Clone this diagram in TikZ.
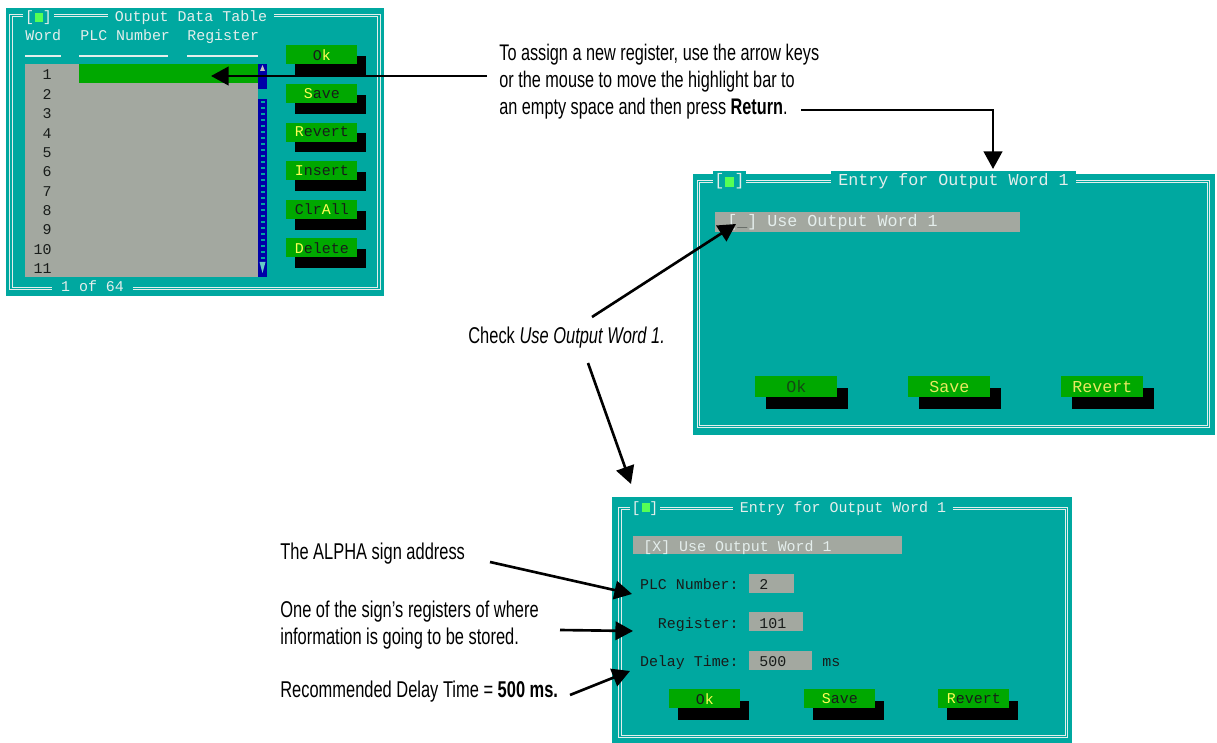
\documentclass[tikz,border=0pt]{standalone}
\usepackage{fontspec}
\usetikzlibrary{arrows.meta,shadows}

\newfontfamily\scrfont{Liberation Mono}
\newfontfamily\annfont[FakeStretch=0.72]{Liberation Sans}

\definecolor{dosteal}{RGB}{0,168,160}
\definecolor{dosgray}{RGB}{163,168,160}
\definecolor{dosgreen}{RGB}{0,168,0}
\definecolor{dosblue}{RGB}{0,0,168}
\definecolor{litegreen}{RGB}{85,255,85}
\definecolor{hotkey}{RGB}{255,255,85}
\definecolor{scrlight}{RGB}{228,238,236}
\definecolor{scrdark}{RGB}{24,28,26}
\definecolor{curgray}{RGB}{90,96,92}
\definecolor{dullgreen}{RGB}{20,72,20}
\definecolor{paleyel}{RGB}{232,232,96}

\newcommand\hk[1]{\textcolor{hotkey}{#1}}
\newcommand\scr{\scrfont\fontsize{8.5}{10}\selectfont}
\newcommand\scrbig{\scrfont\fontsize{9.5}{11}\selectfont}

\tikzset{
  winframe/.style={draw=scrlight, line width=0.55pt, double=dosteal, double distance=1.1pt},
  wintitle/.style={fill=dosteal, text=scrlight, anchor=base, inner xsep=4pt, inner ysep=1.5pt},
  winbox/.style={wintitle, inner xsep=1pt},
  scrtext/.style={anchor=base west, inner sep=0pt, font=\scr},
  btn/.style={fill=dosgreen, text=scrdark, inner sep=0pt, anchor=north west, font=\scr,
    minimum width=1.42cm, minimum height=0.38cm},
  btnshadow/.style 2 args={general shadow={fill=black, shadow xshift=#1, shadow yshift=#2}},
  ann/.style={anchor=base west, inner sep=0pt, font=\annfont\fontsize{13}{15}\selectfont},
  topann/.style={ann, font=\annfont\fontsize{12.85}{15}\selectfont},
  pointer/.style={line width=1.5pt, -{Triangle[length=10pt,width=10.5pt]}},
}

\begin{document}
\begin{tikzpicture}[x=0.02cm, y=-0.02cm]
\useasboundingbox (0,0) rectangle (1217,743);
\fill[white] (0,0) rectangle (1217,743);

% output data table
\fill[dosteal] (6,8) rectangle (384,296);
\draw[winframe] (11.3,15.5) rectangle (379.2,288.5);
\node[winbox, font=\scr] (tblBox) at (38.5,21.5) {[ ]};
\fill[litegreen] (35,13) rectangle (43,22);
\node[wintitle, font=\scr] (tblTitle) at (191,21.5) {Output Data Table};
\node[scrtext, text=scrlight] (hdWord) at (25,41) {Word};
\node[scrtext, text=scrlight] (hdPlc) at (80,41) {PLC Number};
\node[scrtext, text=scrlight] (hdReg) at (187,41) {Register};
\draw[scrlight, line width=1pt] (25,56) -- (61,56) (79,56) -- (168,56) (187,56) -- (258,56);
\fill[dosgray] (25,64) rectangle (258,277);
\fill[dosgreen] (79,64) rectangle (258,83);
\foreach \i in {1,...,11}
  \node[scrtext, anchor=base east, text=scrdark] (row\i) at (52,{80+(\i-1)*19.35}) {\i};
% scroll bar
\fill[dosblue] (258,64) rectangle (267,89);
\fill[dosgray!70!white] (262.5,65) -- (265,71) -- (260,71) -- cycle;
\fill[dosblue] (258,99) rectangle (267,277);
\foreach \k in {0,...,26}
  \fill[dosteal] (260.5,{101+\k*6}) rectangle +(4,2.5);
\fill[dosteal!60!white] (259.5,262) -- (265.5,262) -- (262.5,273) -- cycle;
\foreach \lbl [count=\i from 0] in {O\hk{k}, \hk{S}ave, \hk{R}evert, \hk{I}nsert, Clr\hk{A}ll, \hk{D}elete}
  \node[btn, btnshadow={5.1pt}{-6.2pt}] (tblBtn\i) at (286,{45+\i*38.6}) {\lbl};
\node[wintitle, font=\scr, inner xsep=5pt] (tblPage) at (92.5,291.7) {1 of 64};

% entry window, empty
\fill[dosteal] (693,174) rectangle (1215,435);
\draw[winframe] (698.5,181.5) rectangle (1208.5,426.5);
\node[winbox, font=\scrbig] (entryBoxA) at (729.5,186) {[ ]};
\fill[litegreen] (725,177) rectangle (734,187);
\node[wintitle, font=\scrbig] (entryTitleA) at (953.5,186) {Entry for Output Word 1};
\fill[dosgray] (715,212) rectangle (1020,232);
\node[scrtext, font=\scrbig, text=scrlight] (useA) at (727,227) {[\textcolor{curgray}{\_}] Use Output Word 1};
\node[btn, btnshadow={6.1pt}{-6.8pt}, minimum width=1.64cm, minimum height=0.42cm, font=\scrbig, text=dullgreen] (okA) at (755,376) {Ok};
\node[btn, btnshadow={6.1pt}{-6.8pt}, minimum width=1.64cm, minimum height=0.42cm, font=\scrbig, text=paleyel] (saveA) at (908,376) {Save};
\node[btn, btnshadow={6.1pt}{-6.8pt}, minimum width=1.64cm, minimum height=0.42cm, font=\scrbig, text=paleyel] (revertA) at (1061,376) {Revert};

% entry window, filled in
\fill[dosteal] (612,497) rectangle (1072,743);
\draw[winframe] (620,508.5) rectangle (1066.5,736.5);
\node[winbox, font=\scr] (entryBoxB) at (645,512) {[ ]};
\fill[litegreen] (642,503) rectangle (650,512);
\node[wintitle, font=\scr] (entryTitleB) at (843,512) {Entry for Output Word 1};
\fill[dosgray] (633,536) rectangle (902,554);
\node[scrtext, text=scrlight] (useB) at (643,551) {[X] Use Output Word 1};
\node[scrtext, anchor=base east, text=scrdark] (plcLbl) at (739,589) {PLC Number:};
\node[scrtext, anchor=base east, text=scrdark] (regLbl) at (739,628) {Register:};
\node[scrtext, anchor=base east, text=scrdark] (delayLbl) at (739,666) {Delay Time:};
\fill[dosgray] (749,574) rectangle (794,593);
\fill[dosgray] (749,612) rectangle (803,631);
\fill[dosgray] (749,651) rectangle (812,670);
\node[scrtext, text=scrdark] (plcVal) at (759,589) {2};
\node[scrtext, text=scrdark] (regVal) at (759,628) {101};
\node[scrtext, text=scrdark] (delayVal) at (759,666) {500};
\node[scrtext, text=scrdark] (msLbl) at (822,666) {ms};
\node[btn, btnshadow={5.1pt}{-6.8pt}] (okB) at (669,689) {O\hk{k}};
\node[btn, btnshadow={5.1pt}{-6.8pt}] (saveB) at (804,689) {\hk{S}ave};
\node[btn, btnshadow={5.1pt}{-6.8pt}] (revertB) at (938,689) {\hk{R}evert};

% notes
\node[topann] (assign1) at (499,61) {To assign a new register, use the arrow keys};
\node[topann] (assign2) at (499,88) {or the mouse to move the highlight bar to};
\node[topann] (assign3) at (499,115) {an empty space and then press \textbf{Return}.};
\node[ann] (check) at (468,343) {Check \textit{Use Output Word 1.}};
\node[ann] (alpha) at (280,559) {The ALPHA sign address};
\node[ann] (reg1) at (280,617) {One of the sign’s registers of where};
\node[ann] (reg2) at (280,644) {information is going to be stored.};
\node[ann] (delay) at (280,697) {Recommended Delay Time = \textbf{500 ms.}};

\coordinate (hlFrom) at (487,76);
\coordinate (hlTip) at (211,76);
\coordinate (retFrom) at (801,110);
\coordinate (retTip) at (993,169);
\coordinate (chkFromA) at (592,317);
\coordinate (chkTipA) at (736,224);
\coordinate (chkFromB) at (588,363);
\coordinate (chkTipB) at (631,484);
\coordinate (alphaFrom) at (490,562);
\coordinate (alphaTip) at (632,594);
\coordinate (regFrom) at (560,630);
\coordinate (regTip) at (633,631);
\coordinate (delayFrom) at (570,695);
\coordinate (delayTip) at (630,671);

\draw[pointer] (hlFrom) -- (hlTip);
\draw[pointer] (retFrom) -| (retTip);
\draw[pointer] (chkFromA) -- (chkTipA);
\draw[pointer] (chkFromB) -- (chkTipB);
\draw[pointer] (alphaFrom) -- (alphaTip);
\draw[pointer] (regFrom) -- (regTip);
\draw[pointer] (delayFrom) -- (delayTip);
\end{tikzpicture}
\end{document}
